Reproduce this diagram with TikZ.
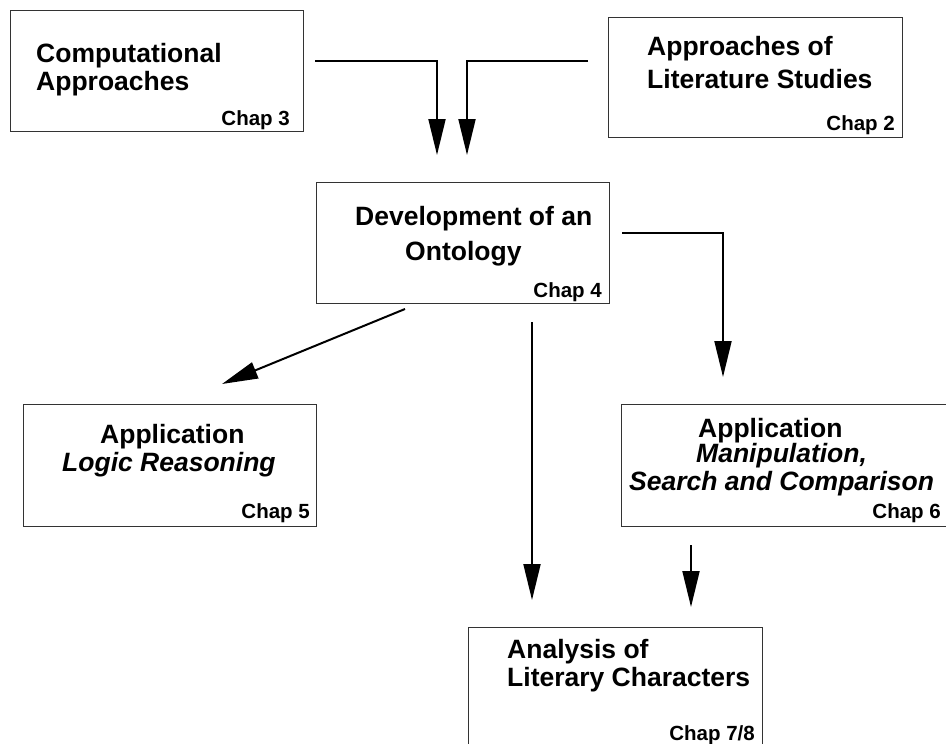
\documentclass[tikz,border=0pt]{standalone}
\usepackage{fontspec}
\setmainfont{Liberation Sans}
\usetikzlibrary{arrows.meta}
\begin{document}
\begin{tikzpicture}[x=1pt,y=-1pt,
  box/.style={draw=black!80, line width=1pt, rectangle, anchor=north west, inner sep=0pt, outer sep=0pt},
  big/.style={inner sep=0pt, anchor=base west, font=\fontsize{26.5}{30}\selectfont\bfseries},
  bigit/.style={big, font=\fontsize{26.5}{30}\selectfont\bfseries\itshape},
  chap/.style={inner sep=0pt, anchor=base east, font=\fontsize{20.5}{24}\selectfont\bfseries},
  conn/.style={line width=2pt, -{Triangle[length=36pt,width=17pt]}}]
\useasboundingbox (0,0) rectangle (946,744);
% boxes
\node[box, minimum width=293pt, minimum height=121pt] (A) at (10,10) {};
\node[box, minimum width=294pt, minimum height=120pt] (B) at (608,17) {};
\node[box, minimum width=293pt, minimum height=121pt] (C) at (316,182) {};
\node[box, minimum width=293pt, minimum height=122pt] (F) at (23,404) {};
\node[box, minimum width=340pt, minimum height=122pt] (D) at (621,404) {};
\node[box, minimum width=294pt, minimum height=140pt] (E) at (468,627) {};
% texts
\node[big] (a1) at (36,62) {Computational};
\node[big] (a2) at (36,90) {Approaches};
\node[chap] (a3) at (290,125) {Chap 3};
\node[big] (b1) at (647,55) {Approaches of};
\node[big] (b2) at (647,88) {Literature Studies};
\node[chap] (b3) at (895,130) {Chap 2};
\node[big] (c1) at (355,225) {Development of an};
\node[big] (c2) at (405,260) {Ontology};
\node[chap] (c3) at (602,297) {Chap 4};
\node[big] (f1) at (100,443) {Application};
\node[bigit] (f2) at (62,471) {Logic Reasoning};
\node[chap] (f3) at (310,518) {Chap 5};
\node[big] (d1) at (698,437) {Application};
\node[bigit] (d2) at (696,462) {Manipulation,};
\node[bigit] (d3) at (629,490) {Search and Comparison};
\node[chap] (d4) at (941,518) {Chap 6};
\node[big] (e1) at (507,658) {Analysis of};
\node[big] (e2) at (507,686) {Literary Characters};
\node[chap] (e3) at (755,740) {Chap 7/8};
% connector ends
\coordinate (pA) at (315,61);
\coordinate (tA) at (437,155);
\coordinate (pB) at (588,61);
\coordinate (tB) at (467,155);
\coordinate (pCF) at (405,309);
\coordinate (tCF) at (222,384);
\coordinate (pCE) at (532,322);
\coordinate (tCE) at (532,600);
\coordinate (pCD) at (622,233);
\coordinate (tCD) at (723,377);
\coordinate (pDE) at (691,545);
\coordinate (tDE) at (691,607);
% connectors
\draw[conn] (pA) -| (tA);
\draw[conn] (pB) -| (tB);
\draw[conn] (pCF) -- (tCF);
\draw[conn] (pCE) -- (tCE);
\draw[conn] (pCD) -| (tCD);
\draw[conn] (pDE) -- (tDE);
\end{tikzpicture}
\end{document}
